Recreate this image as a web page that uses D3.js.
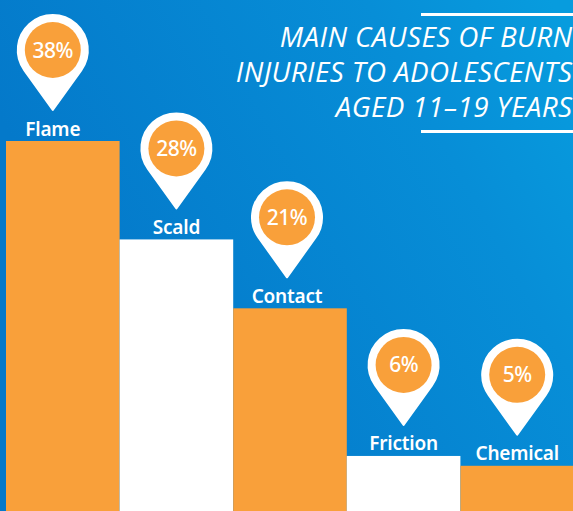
<!DOCTYPE html>
<html>
<head>
<meta charset="utf-8">
<script src="https://cdn.jsdelivr.net/npm/d3@7"></script>
<style>
  html, body { margin: 0; padding: 0; overflow: hidden; background: #0a80cf; }
  svg { display: block; }
</style>
</head>
<body>
<svg id="chart"></svg>
<script>
// values
const causes = ["Flame", "Scald", "Contact", "Friction", "Chemical"];
const percents = [38, 28, 21, 6, 5];
const titleLines = ["MAIN CAUSES OF BURN", "INJURIES TO ADOLESCENTS", "AGED 11\u201319 YEARS"];

const width = 573, height = 511;
const orange = "#f9a03a";

const svg = d3.select("#chart").attr("width", width).attr("height", height);

// background gradient
const grad = svg.append("defs").append("linearGradient")
  .attr("id", "bg")
  .attr("gradientUnits", "userSpaceOnUse")
  .attr("x1", 100).attr("y1", 300)
  .attr("x2", 573).attr("y2", 40);
grad.append("stop").attr("offset", "0%").attr("stop-color", "#0479ca");
grad.append("stop").attr("offset", "70%").attr("stop-color", "#078ed7");
grad.append("stop").attr("offset", "100%").attr("stop-color", "#079cde");

svg.append("rect")
  .attr("width", width).attr("height", height)
  .attr("fill", "url(#bg)");

const x = d3.scaleBand().domain(causes).range([6, 574]).padding(0);
const y = d3.scaleLinear().domain([0, 38]).range([515, 141]);

// pins and labels don't all sit on the bar centre
const shift = { Flame: -10, Contact: -3 };
const pinX = (d) => x(d) + x.bandwidth() / 2 + (shift[d] || 0);

const rows = causes.map((c, i) => ({ cause: c, value: percents[i] }));

svg.selectAll(".bar")
  .data(rows)
  .enter()
  .append("rect")
  .attr("class", "bar")
  .attr("x", (d) => x(d.cause))
  .attr("y", (d) => y(d.value))
  .attr("width", x.bandwidth())
  .attr("height", (d) => y(0) - y(d.value))
  .attr("fill", (d, i) => (i % 2 ? "#ffffff" : orange));

// teardrop with its tip straight below the circle centre
function pinPath(r, tip) {
  const a = Math.acos(r / tip);
  const px = r * Math.sin(a), py = r * Math.cos(a);
  return `M0,${tip}L${px},${py}A${r},${r} 0 1 0 ${-px},${py}Z`;
}

const pins = svg.selectAll(".pin")
  .data(rows)
  .enter()
  .append("g")
  .attr("class", "pin")
  .attr("transform", (d) => `translate(${pinX(d.cause)},${y(d.value) - 91})`);

pins.append("path")
  .attr("d", pinPath(35, 60))
  .attr("fill", "#fff")
  .attr("stroke", "#fff")
  .attr("stroke-width", 2)
  .attr("stroke-linejoin", "round");

pins.append("circle").attr("r", 28).attr("fill", orange);

pins.append("text")
  .attr("text-anchor", "middle")
  .attr("y", 7.5)
  .attr("fill", "#fff")
  .style("font", "500 21px 'Noto Sans'")
  .style("letter-spacing", "-0.5px")
  .text((d) => d.value + "%");

svg.selectAll(".label")
  .data(rows)
  .enter()
  .append("text")
  .attr("class", "label")
  .attr("text-anchor", "middle")
  .attr("x", (d) => pinX(d.cause))
  .attr("y", (d) => y(d.value) - 5.5)
  .attr("fill", "#fff")
  .style("font", "600 19px 'Noto Sans'")
  .style("letter-spacing", "-0.2px")
  .text((d) => d.cause);

// title
svg.selectAll(".title")
  .data(titleLines)
  .enter()
  .append("text")
  .attr("class", "title")
  .attr("text-anchor", "end")
  .attr("x", 572.5)
  .attr("y", (d, i) => 47 + i * 35)
  .attr("fill", "#fff")
  .style("font", "italic 400 27.8px 'Open Sans'")
  .style("letter-spacing", "0.4px")
  .text((d) => d);

svg.selectAll(".rule")
  .data([14.5, 131.5])
  .enter()
  .append("rect")
  .attr("class", "rule")
  .attr("x", 421)
  .attr("y", (d) => d - 1.5)
  .attr("width", width - 421)
  .attr("height", 3)
  .attr("fill", "#fff");
</script>
</body>
</html>
